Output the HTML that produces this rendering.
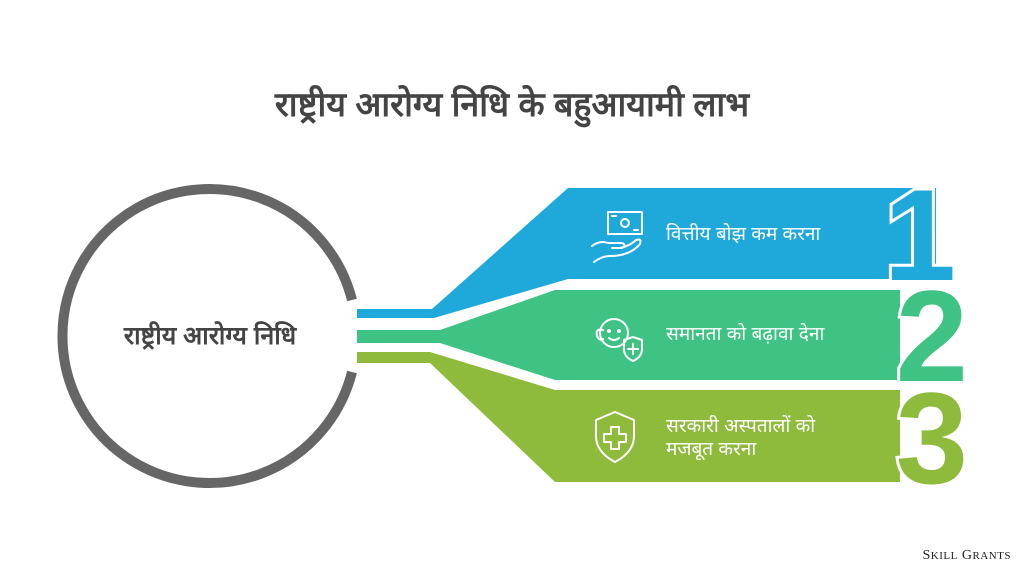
<!DOCTYPE html>
<html><head><meta charset="utf-8"><style>
html,body{margin:0;padding:0;background:#fff;}
body{width:1024px;height:576px;overflow:hidden;position:relative;font-family:"Liberation Sans","Noto Sans",sans-serif;}
</style></head><body>
<svg width="1024" height="576" viewBox="0 0 1024 576" xmlns="http://www.w3.org/2000/svg">
<text x="512" y="116" text-anchor="middle" font-size="34" font-weight="bold" fill="#444" style="font-family:'Liberation Sans',sans-serif">राष्ट्रीय आरोग्य निधि के बहुआयामी लाभ</text>
<path d="M 352 300 A 147 147 0 1 0 352 372" fill="none" stroke="#666" stroke-width="10"/>
<text x="210" y="344" text-anchor="middle" font-size="25" font-weight="bold" fill="#444" style="font-family:'Liberation Sans',sans-serif">राष्ट्रीय आरोग्य निधि</text>
<polygon points="357,309 432,309 568,188 936,188 936,279 568,279 434,318 357,318" fill="#1fa8da"/>
<polygon points="357,330 440,330 555,290 900,290 900,380 555,380 440,343 357,343" fill="#3ec384"/>
<polygon points="357,352 430,352 555,390 900,390 900,482 555,482 430,363 357,363" fill="#8fbb3c"/>
<g text-anchor="end" stroke="#fff" stroke-width="6" paint-order="stroke" font-family="Liberation Sans" font-weight="700" font-size="130">
<text x="956" y="280" fill="#1fa8da" style="font-family:'Liberation Sans';font-weight:700">1</text>
<text x="968" y="381" fill="#3ec384" style="font-family:'Liberation Sans';font-weight:700">2</text>
<text x="968" y="483" fill="#8fbb3c" style="font-family:'Liberation Sans';font-weight:700">3</text>
</g>
<g fill="none" stroke="#fff" stroke-width="2" stroke-linecap="round" stroke-linejoin="round">
<rect x="608" y="212" width="34" height="22"/>
<circle cx="625" cy="223" r="4"/>
<path d="M612 216 l4 0 M638 230 l-4 0"/>
<path d="M592 246 q8 -6 16 -3 l14 0 q5 2 0 5 l-10 0 M620 248 q10 -2 16 -8 q6 -2 4 4 q-10 12 -30 12 q-8 0 -16 6"/>
<circle cx="614" cy="333" r="14"/>
<path d="M603 330 q-8 -2 -6 6 q2 5 6 3"/>
<circle cx="609" cy="331" r="1"/><circle cx="619" cy="331" r="1"/>
<path d="M609 338 q5 4 10 0"/>
<path d="M624 340 l9 -3 l9 3 v9 q0 8 -9 12 q-9 -4 -9 -12 z"/>
<path d="M633 344 v10 M628 349 h10"/>
<path d="M596 420 l19 -8 l19 8 v16 q0 16 -19 26 q-19 -10 -19 -26 z"/>
<path d="M611 427 h8 v7 h7 v8 h-7 v7 h-8 v-7 h-7 v-8 h7 z"/>
</g>
<g font-size="19" fill="#fff" style="font-family:'Liberation Sans',sans-serif">
<text x="666" y="240">वित्तीय बोझ कम करना</text>
<text x="666" y="340">समानता को बढ़ावा देना</text>
<text x="666" y="432">सरकारी अस्पतालों को</text>
<text x="666" y="455">मजबूत करना</text>
</g>
<text x="1011" y="559" text-anchor="end" font-size="14" fill="#222" letter-spacing="0.5" style="font-family:'Liberation Serif',serif">S<tspan font-size="11">KILL</tspan> G<tspan font-size="11">RANTS</tspan></text>
</svg>
</body></html>
